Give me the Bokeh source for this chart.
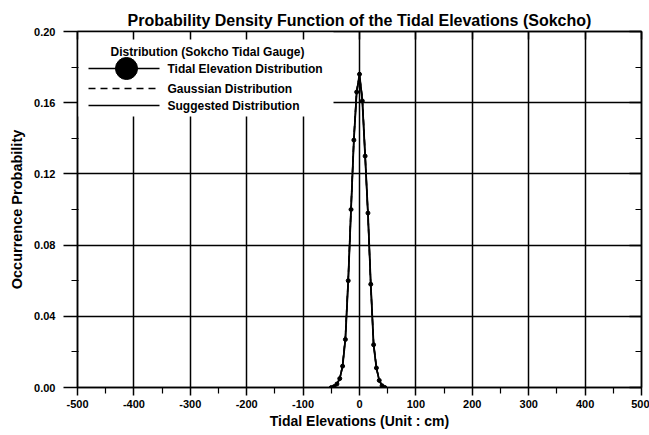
from bokeh.plotting import figure
from bokeh.models import FixedTicker, LinearAxis, BoxAnnotation, Range1d
from bokeh.core.properties import value
from bokeh.embed import file_html
from bokeh.resources import INLINE

# ---- data: occurrence probability of tidal elevations at Sokcho (5 cm bins) ----
elevation_cm = [-50, -45, -40, -35, -30, -25, -20, -15, -10, -5, 0,
                5, 10, 15, 20, 25, 30, 35, 40, 45]
observed_pdf = [0.000, 0.0005, 0.002, 0.005, 0.012, 0.027, 0.060, 0.100, 0.139, 0.166, 0.176,
                0.161, 0.130, 0.098, 0.058, 0.024, 0.011, 0.004, 0.001, 0.000]
gaussian_pdf = [0.000, 0.001, 0.002, 0.005, 0.012, 0.029, 0.061, 0.101, 0.140, 0.167, 0.175,
                0.163, 0.131, 0.097, 0.057, 0.025, 0.011, 0.004, 0.001, 0.000]
suggested_pdf = [0.000, 0.0005, 0.002, 0.005, 0.012, 0.028, 0.060, 0.100, 0.139, 0.166, 0.175,
                 0.162, 0.130, 0.097, 0.058, 0.024, 0.011, 0.004, 0.001, 0.000]

x_ticks = [-500, -400, -300, -200, -100, 0, 100, 200, 300, 400, 500]
x_tick_labels = ["-500", "-400", "-300", "-200", "-100", "0", "100", "200", "300", "400", "500"]
x_minor = [-450, -350, -250, -150, -50, 50, 150, 250, 350, 450]
y_ticks = [0.0, 0.04, 0.08, 0.12, 0.16, 0.2]
y_tick_labels = ["0.00", "0.04", "0.08", "0.12", "0.16", "0.20"]
y_minor = [0.02, 0.06, 0.10, 0.14, 0.18]

legend_title = "Distribution (Sokcho Tidal Gauge)"
legend_labels = ["Tidal Elevation Distribution", "Gaussian Distribution", "Suggested Distribution"]

# ---- layout ----
W, H = 649, 435
LEFT, RIGHT, TOP, BOTTOM = 77, 8, 31, 48
X0, X1, Y0, Y1 = -500, 500, 0.0, 0.20
FW, FH = W - LEFT - RIGHT, H - TOP - BOTTOM
FONT = "Liberation Sans"


def sx(px):
    return X0 + (px - LEFT) / FW * (X1 - X0)


def sy(py):
    return Y0 + (H - BOTTOM - py) / FH * (Y1 - Y0)


p = figure(width=W, height=H, output_backend="svg", toolbar_location=None,
           x_range=Range1d(X0, X1), y_range=Range1d(Y0, Y1),
           min_border_left=LEFT, min_border_right=RIGHT,
           min_border_top=TOP, min_border_bottom=BOTTOM,
           title="Probability Density Function of the Tidal Elevations (Sokcho)")
p.background_fill_color = "white"
p.border_fill_color = "white"
p.outline_line_color = "black"
p.outline_line_width = 1.5

p.title.align = "center"
p.title.text_font = FONT
p.title.text_font_size = "16px"
p.title.text_font_style = "bold"
p.title.text_color = "black"
p.title.standoff = 6

xt = FixedTicker(ticks=x_ticks, minor_ticks=x_minor)
yt = FixedTicker(ticks=y_ticks, minor_ticks=y_minor)

# bottom and left axes
xa = p.xaxis[0]
xa.ticker = xt
xa.major_label_overrides = dict(zip(x_ticks, x_tick_labels))
xa.axis_label = "Tidal Elevations (Unit : cm)"
ya = p.yaxis[0]
ya.ticker = yt
ya.major_label_overrides = dict(zip(y_ticks, y_tick_labels))
ya.axis_label = "Occurrence Probability"

for ax in (xa, ya):
    ax.axis_line_color = "black"
    ax.axis_line_width = 1.5
    ax.major_tick_line_color = "black"
    ax.major_tick_line_width = 1.5
    ax.minor_tick_line_color = "black"
    ax.minor_tick_line_width = 1.2
    ax.major_label_text_font = FONT
    ax.major_label_text_font_size = "11px"
    ax.major_label_text_font_style = "bold"
    ax.major_label_text_color = "black"
    ax.axis_label_text_font = FONT
    ax.axis_label_text_font_style = "bold"
    ax.axis_label_text_color = "black"

xa.axis_label_text_font_size = "14px"
ya.axis_label_text_font_size = "14.5px"
xa.major_tick_out, xa.major_tick_in = 8, 0
xa.minor_tick_out, xa.minor_tick_in = 6, 0
xa.major_label_standoff = 4
xa.axis_label_standoff = 2
ya.major_tick_out, ya.major_tick_in = 14, 0
ya.minor_tick_out, ya.minor_tick_in = 6, 1
ya.major_label_standoff = 8
ya.axis_label_standoff = 6

# right and top axes carry inward ticks only
ra = LinearAxis(ticker=yt, major_tick_in=12, major_tick_out=0,
                minor_tick_in=6, minor_tick_out=0, axis_line_color="black",
                axis_line_width=1.5, major_tick_line_width=1.5, minor_tick_line_width=1.2)
ra.major_label_text_alpha = 0
ra.major_label_text_font_size = "1px"
p.add_layout(ra, "right")
ta = LinearAxis(ticker=xt, major_tick_in=8, major_tick_out=0,
                minor_tick_in=0, minor_tick_out=0, axis_line_color="black",
                axis_line_width=1.5, major_tick_line_width=1.5)
ta.major_label_text_alpha = 0
ta.major_label_text_font_size = "1px"
p.add_layout(ta, "above")

# grid
p.xgrid.ticker = xt
p.ygrid.ticker = yt
for g in (p.xgrid[0], p.ygrid[0]):
    g.grid_line_color = "black"
    g.grid_line_width = 1.5
    g.grid_line_alpha = 1

# curves
p.line(elevation_cm, gaussian_pdf, line_color="black", line_width=1.5, line_dash="6 4")
p.line(elevation_cm, suggested_pdf, line_color="black", line_width=1.5)
p.line(elevation_cm, observed_pdf, line_color="black", line_width=1.8)
p.scatter(elevation_cm, observed_pdf, size=4, color="black")

# legend panel (white box over the grid)
box = BoxAnnotation(left=sx(LEFT), right=sx(333), top=sy(TOP), bottom=sy(116),
                    fill_color="white", fill_alpha=1, line_alpha=0, level="underlay")
p.add_layout(box)

p.text(x=[sx(207)], y=[sy(51)], text=[legend_title], text_font=value(FONT),
       text_font_size="12px", text_font_style="bold", text_align="center",
       text_baseline="middle", text_color="black")

rows_y = [68, 88, 105]
line_x = [sx(88), sx(159)]
p.line(line_x, [sy(rows_y[0])] * 2, line_color="black", line_width=1.5)
p.scatter([sx(126)], [sy(rows_y[0])], size=22, color="black")
p.line(line_x, [sy(rows_y[1])] * 2, line_color="black", line_width=1.5, line_dash="7 5")
p.line(line_x, [sy(rows_y[2])] * 2, line_color="black", line_width=1.5)
p.text(x=[sx(167)] * 3, y=[sy(r) for r in rows_y], text=legend_labels,
       text_font=value(FONT), text_font_size="12px", text_font_style="bold",
       text_align="left", text_baseline="middle", text_color="black")

open("out.html", "w").write(file_html(p, INLINE))
